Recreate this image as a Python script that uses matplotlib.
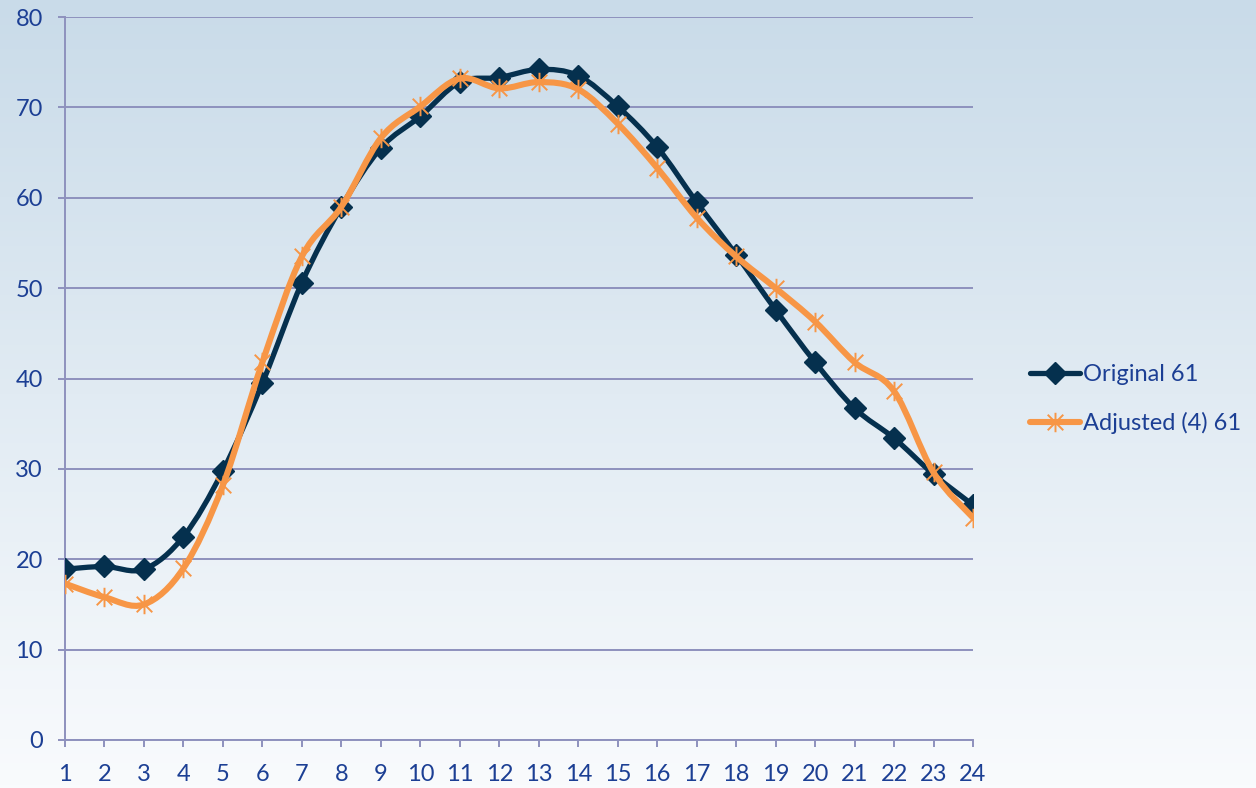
import numpy as np
import matplotlib.pyplot as plt
from matplotlib.path import Path
from matplotlib.patches import PathPatch
from matplotlib.lines import Line2D

# data
hours = list(range(1, 25))
original_61 = [18.9, 19.2, 18.9, 22.5, 29.8, 39.5, 50.6, 59.0, 65.5, 69.0, 72.8, 73.3,
               74.2, 73.5, 70.1, 65.6, 59.5, 53.7, 47.6, 41.8, 36.7, 33.4, 29.4, 26.0]
adjusted_61 = [17.3, 15.8, 15.0, 19.0, 28.2, 41.8, 53.5, 59.0, 66.6, 70.1, 73.2, 72.1,
               72.8, 72.0, 68.2, 63.3, 57.8, 53.5, 50.0, 46.3, 41.8, 38.6, 29.6, 24.6]
y_ticks = [0, 10, 20, 30, 40, 50, 60, 70, 80]

label_col = '#1c3f94'
grid_col = '#8e91bd'
navy = '#05304e'
orange = '#f79646'


def smooth_path(x, y):
    # excel-like smoothed line: cubic bezier with catmull-rom control points
    p = np.column_stack([x, y]).astype(float)
    verts = [p[0]]
    codes = [Path.MOVETO]
    n = len(p)
    for i in range(n - 1):
        p0 = p[i - 1] if i > 0 else p[i]
        p3 = p[i + 2] if i + 2 < n else p[i + 1]
        c1 = p[i] + (p[i + 1] - p0) / 6.0
        c2 = p[i + 1] - (p3 - p[i]) / 6.0
        verts += [c1, c2, p[i + 1]]
        codes += [Path.CURVE4] * 3
    return Path(verts, codes)


star = Path([(-1, -1), (1, 1), (-1, 1), (1, -1), (0, -1.25), (0, 1.25)],
            [Path.MOVETO, Path.LINETO, Path.MOVETO, Path.LINETO, Path.MOVETO, Path.LINETO])

plt.rcParams['font.family'] = ['Lato', 'DejaVu Sans']

fig = plt.figure(figsize=(12.56, 7.88), dpi=100)

# gradient background
bg = fig.add_axes([0, 0, 1, 1], zorder=-10)
grad = np.linspace(0, 1, 256).reshape(-1, 1)
top = np.array([0xc9, 0xdb, 0xe9]) / 255
bottom = np.array([0xf9, 0xfb, 0xfd]) / 255
img = top + (bottom - top) * grad[:, :, None]
bg.imshow(img, aspect='auto', extent=[0, 1, 0, 1])
bg.axis('off')

ax = fig.add_axes([65 / 1256, 1 - 740 / 788, (973 - 65) / 1256, (740 - 17) / 788])
ax.set_facecolor('none')

ax.add_patch(PathPatch(smooth_path(hours, original_61), fill=False, edgecolor=navy,
                       lw=3.8, capstyle='round', joinstyle='round', zorder=3))
ax.plot(hours, original_61, linestyle='none', marker='D', ms=11.5, color=navy, zorder=4)

ax.add_patch(PathPatch(smooth_path(hours, adjusted_61), fill=False, edgecolor=orange,
                       lw=4.4, capstyle='round', joinstyle='round', zorder=5))
ax.plot(hours, adjusted_61, linestyle='none', marker=star, ms=14, mew=1.4,
        color=orange, zorder=6)

ax.set_xlim(1, 24)
ax.set_ylim(0, 80)
ax.set_xticks(hours)
ax.set_yticks(y_ticks)
ax.grid(axis='y', color=grid_col, lw=1.4)
ax.set_axisbelow(True)
for s in ['top', 'right']:
    ax.spines[s].set_visible(False)
for s in ['left', 'bottom']:
    ax.spines[s].set_color(grid_col)
    ax.spines[s].set_linewidth(1.4)
    ax.spines[s].set_zorder(1)
ax.tick_params(axis='both', colors=grid_col, labelcolor=label_col, labelsize=17,
               length=5, width=1.4)
ax.tick_params(axis='y', pad=11)
ax.tick_params(axis='x', pad=12)

handles = [
    Line2D([], [], color=navy, lw=3.8, marker='D', ms=11.5, solid_capstyle='round'),
    Line2D([], [], color=orange, lw=4.4, marker=star, ms=14, mew=1.4, solid_capstyle='round'),
]
fig.legend(handles, ['Original 61', 'Adjusted (4) 61'], loc='center left',
           bbox_to_anchor=(1030 / 1256, 1 - 399 / 788), frameon=False, fontsize=17,
           labelcolor=label_col, handlelength=2.1, handletextpad=0.15, labelspacing=1.15,
           borderpad=0, borderaxespad=0, numpoints=1)

fig.savefig('out.png', dpi=100)
